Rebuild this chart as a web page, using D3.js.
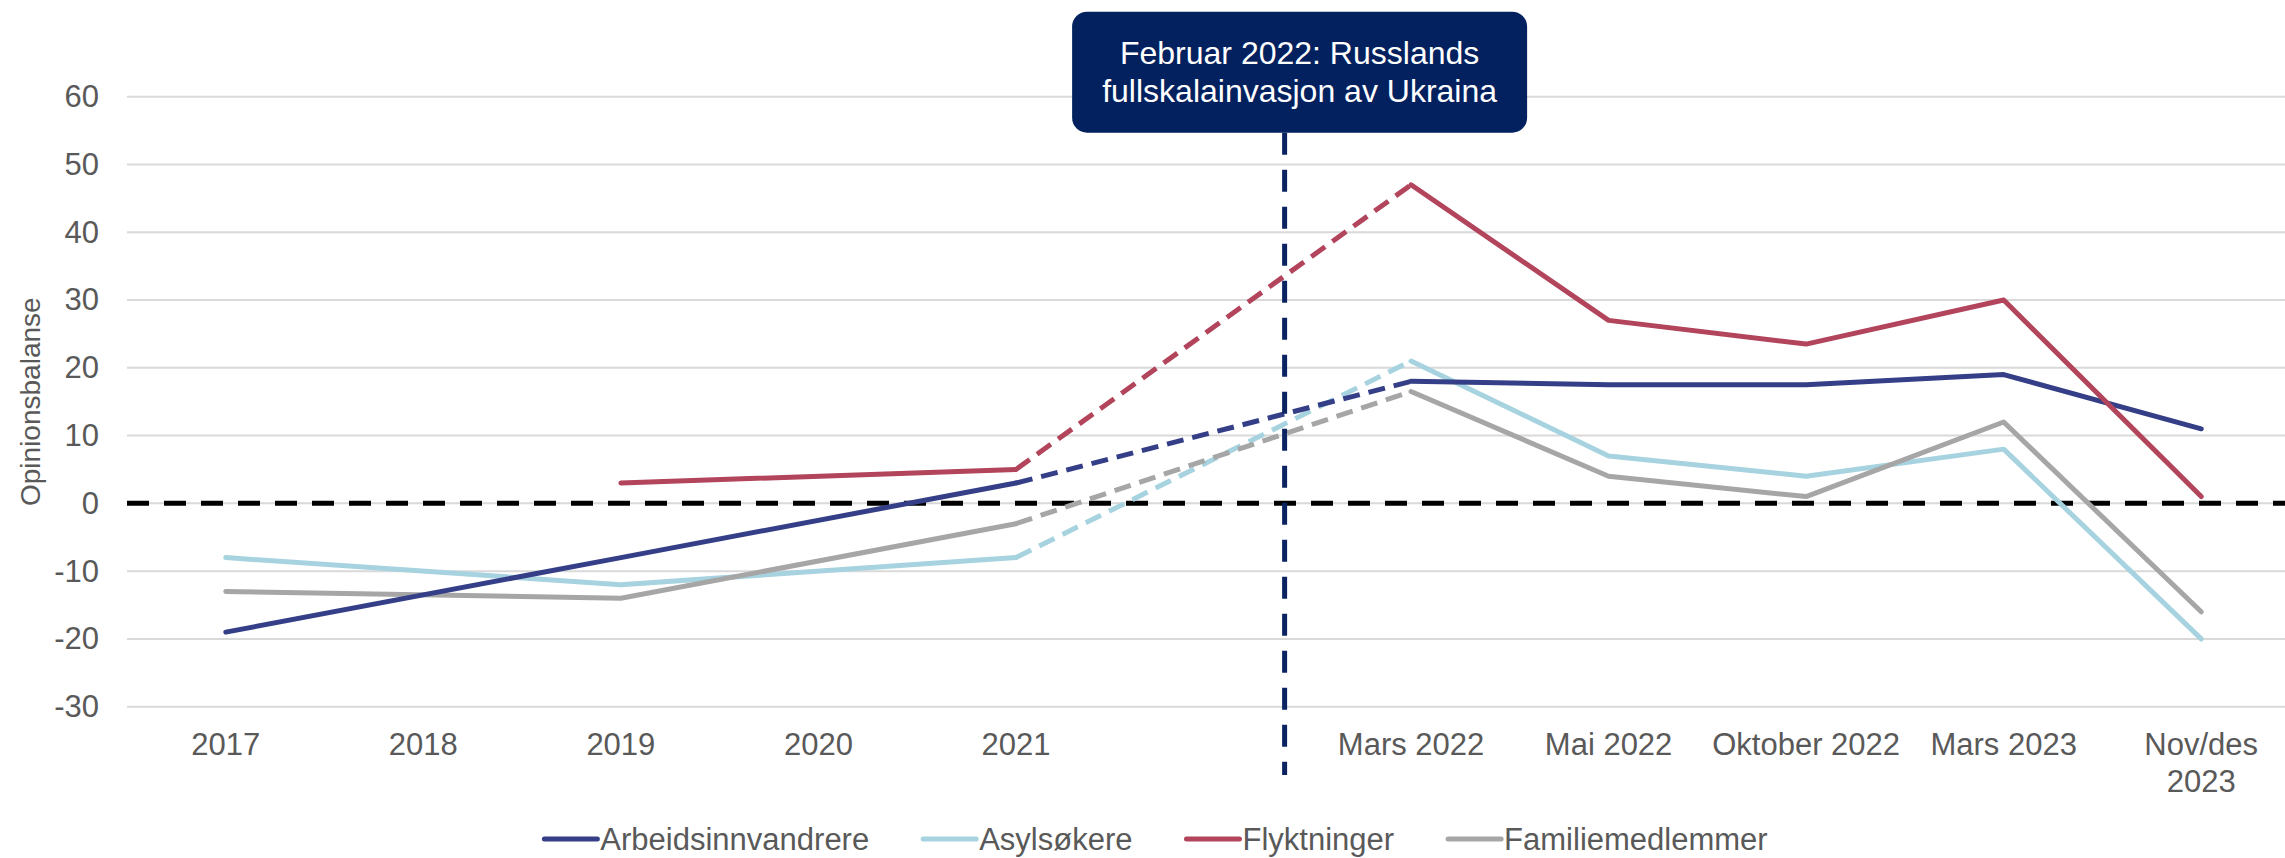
<!DOCTYPE html>
<html>
<head>
<meta charset="utf-8">
<script src="https://cdn.jsdelivr.net/npm/d3@7"></script>
<style>
  body { margin: 0; background: #fff; }
  svg { display: block; font-family: "Liberation Sans", Arial, sans-serif; }
</style>
</head>
<body>
<div id="chart"></div>
<script>
// categories (index 5 is the empty slot where the invasion marker sits)
const categories = ["2017", "2018", "2019", "2020", "2021", "feb2022", "Mars 2022", "Mai 2022", "Oktober 2022", "Mars 2023", "Nov/des 2023"];
const tickLabels = ["2017", "2018", "2019", "2020", "2021", "", "Mars 2022", "Mai 2022", "Oktober 2022", "Mars 2023", "Nov/des\n2023"];
const yTicks = [-30, -20, -10, 0, 10, 20, 30, 40, 50, 60];

// series values, null = no survey
const arbeidsinnvandrere = [-19, null, -8, null, 3, null, 18, 17.5, 17.5, 19, 11];
const asylsokere = [-8, null, -12, null, -8, null, 21, 7, 4, 8, -20];
const flyktninger = [null, null, 3, null, 5, null, 47, 27, 23.5, 30, 1];
const familiemedlemmer = [-13, null, -14, null, -3, null, 16.5, 4, 1, 12, -16];

const seriesNames = ["Arbeidsinnvandrere", "Asylsøkere", "Flyktninger", "Familiemedlemmer"];
const seriesColors = ["#343F87", "#A6D3DF", "#B2445C", "#A6A6A6"];

// event marker, in category index units
const eventPos = 5.36;
const eventText = ["Februar 2022: Russlands", "fullskalainvasjon av Ukraina"];
const gapIndex = 5;

const width = 2285, height = 858;
const textColor = "#595959";

const svg = d3.select("#chart").append("svg")
  .attr("width", width)
  .attr("height", height);

const x = d3.scaleBand()
  .domain(categories)
  .range([127, 2300])
  .padding(0);
const xc = (c) => x(c) + x.bandwidth() / 2;
const xIdx = d3.scaleLinear().domain([0, 1]).range([xc(categories[0]), xc(categories[1])]);

const y = d3.scaleLinear()
  .domain([-30, 60])
  .range([706.7, 96.7]);

// gridlines
svg.append("g")
  .selectAll("line")
  .data(yTicks)
  .join("line")
  .attr("x1", 127)
  .attr("x2", width)
  .attr("y1", (d) => y(d))
  .attr("y2", (d) => y(d))
  .attr("stroke", "#D9D9D9")
  .attr("stroke-width", 2);

// y axis labels (plain hyphen for negatives, like the original)
const yAxis = svg.append("g")
  .attr("transform", "translate(127,0)")
  .call(d3.axisLeft(y).tickValues(yTicks).tickSize(0).tickPadding(28)
    .tickFormat((d) => String(d)));
yAxis.select(".domain").remove();
yAxis.selectAll("text")
  .attr("fill", textColor)
  .style("font-size", "31px")
  .style("font-family", "Liberation Sans, Arial, sans-serif");

// x axis labels
const xAxis = svg.append("g")
  .attr("transform", `translate(0,${y(-30)})`)
  .call(d3.axisBottom(x).tickSize(0).tickPadding(26)
    .tickFormat((d) => tickLabels[categories.indexOf(d)]));
xAxis.select(".domain").remove();
xAxis.selectAll("text")
  .attr("fill", textColor)
  .style("font-size", "31px")
  .style("font-family", "Liberation Sans, Arial, sans-serif")
  .each(function () {
    const t = d3.select(this);
    const lines = t.text().split("\n");
    if (lines.length > 1) {
      t.text(null);
      lines.forEach((l, k) => {
        t.append("tspan")
          .attr("x", 0)
          .attr("dy", k === 0 ? "0.71em" : "1.2em")
          .text(l);
      });
      t.attr("dy", null);
    }
  });

// y axis title
svg.append("text")
  .attr("transform", `translate(40,${(y(60) + y(-30)) / 2}) rotate(-90)`)
  .attr("text-anchor", "middle")
  .attr("fill", textColor)
  .style("font-size", "28px")
  .text("Opinionsbalanse");

// zero line
svg.append("line")
  .attr("x1", 127)
  .attr("x2", width)
  .attr("y1", y(0))
  .attr("y2", y(0))
  .attr("stroke", "#000")
  .attr("stroke-width", 5)
  .attr("stroke-dasharray", "22,15");

// series
const allSeries = [arbeidsinnvandrere, asylsokere, flyktninger, familiemedlemmer].map((vals, i) => {
  const pts = vals.map((v, j) => ({ i: j, v: v })).filter((p) => p.v !== null);
  const pre = pts.filter((p) => p.i < gapIndex);
  const post = pts.filter((p) => p.i > gapIndex);
  return {
    name: seriesNames[i],
    color: seriesColors[i],
    pre: pre,
    post: post,
    bridge: [pre[pre.length - 1], post[0]]
  };
});

const line = d3.line()
  .x((p) => xc(categories[p.i]))
  .y((p) => y(p.v));

const drawOrder = [1, 3, 0, 2];
const lineG = svg.append("g");
drawOrder.forEach((k) => {
  const s = allSeries[k];
  const g = lineG.append("g")
    .attr("fill", "none")
    .attr("stroke", s.color)
    .attr("stroke-width", 5);
  g.append("path").attr("d", line(s.pre)).attr("stroke-linecap", "round").attr("stroke-linejoin", "round");
  g.append("path").attr("d", line(s.post)).attr("stroke-linecap", "round").attr("stroke-linejoin", "round");
  g.append("path").attr("d", line(s.bridge)).attr("stroke-dasharray", "17,9");
});

// event marker
const ex = xIdx(eventPos);
const boxW = 455, boxH = 121, boxTop = 11.7;
svg.append("line")
  .attr("x1", ex)
  .attr("x2", ex)
  .attr("y1", boxTop + boxH)
  .attr("y2", 775)
  .attr("stroke", "#0B2461")
  .attr("stroke-width", 5)
  .attr("stroke-dasharray", "22,15");

const boxCx = ex + 15;
svg.append("rect")
  .attr("x", boxCx - boxW / 2)
  .attr("y", boxTop)
  .attr("width", boxW)
  .attr("height", boxH)
  .attr("rx", 15)
  .attr("fill", "#03215F");

svg.append("text")
  .attr("text-anchor", "middle")
  .attr("fill", "#fff")
  .style("font-size", "32px")
  .selectAll("tspan")
  .data(eventText)
  .join("tspan")
  .attr("x", boxCx)
  .attr("y", (d, i) => 64.3 + i * 37.4)
  .text((d) => d);

// legend
const legend = svg.append("g");
let lx = 0;
allSeries.forEach((s) => {
  const g = legend.append("g").attr("transform", `translate(${lx},0)`);
  g.append("line")
    .attr("x1", 2).attr("x2", 55)
    .attr("y1", 0).attr("y2", 0)
    .attr("stroke", s.color)
    .attr("stroke-width", 5)
    .attr("stroke-linecap", "round");
  const t = g.append("text")
    .attr("x", 58)
    .attr("y", 11)
    .attr("fill", textColor)
    .style("font-size", "31px")
    .text(s.name);
  lx += 58 + t.node().getComputedTextLength() + 52;
});
const legendW = lx - 52;
legend.attr("transform", `translate(${1155 - legendW / 2},839)`);
</script>
</body>
</html>
